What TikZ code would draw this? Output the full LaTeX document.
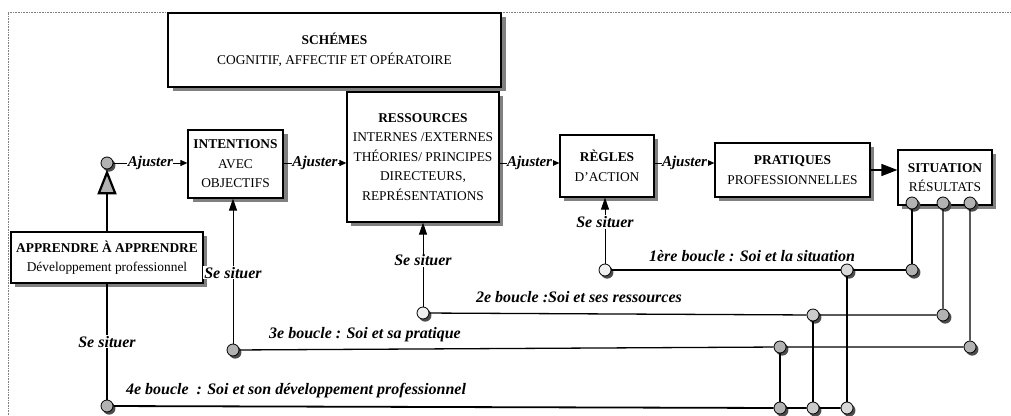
\documentclass[tikz,border=0pt]{standalone}
\usepackage{fontspec}
\setmainfont{Liberation Serif}
\usetikzlibrary{arrows.meta}
\newcommand{\fsz}{\fontsize{13.4}{19.5}\selectfont}
\newcommand{\fit}{\fontsize{16}{19}\selectfont\bfseries\itshape}
\newcommand{\faj}{\fontsize{15}{18}\selectfont\bfseries\itshape}
\begin{document}
\begin{tikzpicture}[x=1pt,y=-1pt,
  box/.style={draw, line width=1.2pt, fill=white, align=center, inner sep=0pt, font=\fsz},
  shbox/.style={draw=none, fill=black!50, inner sep=0pt},
  ball/.style={circle, draw, line width=0.8pt, fill=gray!60, minimum size=12pt, inner sep=0pt},
  shball/.style={circle, draw=none, fill=black!70, minimum size=12.5pt, inner sep=0pt},
  lab/.style={font=\fit, fill=white, inner sep=1pt},
  ajlab/.style={font=\faj, fill=white, inner sep=0.5pt},
  looplab/.style={font=\fit, inner sep=0pt},
  loop/.style={line width=1.3pt},
  aj/.style={line width=1pt, -{Triangle[length=7pt,width=6pt]}},
  up/.style={line width=1pt, -{Triangle[length=12pt,width=8pt]}},
  frame/.style={gray, line width=0.6pt, densely dotted}]
\useasboundingbox (0,0) rectangle (1011,415);
\draw[frame] (8,415) -- (8,12) -- (1011,12);

% box shadows
\node[shbox, minimum width=333pt, minimum height=74pt] (sch-s) at (339,54) {};
\node[shbox, minimum width=95pt, minimum height=68pt] (int-s) at (240,168) {};
\node[shbox, minimum width=152pt, minimum height=130pt] (res-s) at (427,161) {};
\node[shbox, minimum width=94pt, minimum height=62pt] (reg-s) at (611,170) {};
\node[shbox, minimum width=155pt, minimum height=54pt] (pra-s) at (796.5,174) {};
\node[shbox, minimum width=94pt, minimum height=55pt] (sit-s) at (949,181.5) {};
\node[shbox, minimum width=192pt, minimum height=51pt] (app-s) at (111,261.5) {};

% boxes
\node[box, minimum width=333pt, minimum height=74pt] (sch) at (334.5,50)
  {\textbf{SCHÉMES}\\COGNITIF, AFFECTIF ET OPÉRATOIRE};
\node[box, minimum width=95pt, minimum height=68pt] (int) at (235.5,164)
  {\textbf{INTENTIONS}\\AVEC\\OBJECTIFS};
\node[box, minimum width=152pt, minimum height=130pt] (res) at (423,157)
  {\textbf{RESSOURCES}\\INTERNES /EXTERNES\\THÉORIES/ PRINCIPES\\DIRECTEURS,\\REPRÉSENTATIONS};
\node[box, minimum width=94pt, minimum height=62pt] (reg) at (607,166)
  {\textbf{RÈGLES}\\D'ACTION};
\node[box, minimum width=155pt, minimum height=54pt] (pra) at (792.5,170)
  {\textbf{PRATIQUES}\\PROFESSIONNELLES};
\node[box, minimum width=94pt, minimum height=55pt] (sit) at (945,177.5)
  {\textbf{SITUATION}\\RÉSULTATS};
\node[box, minimum width=192pt, minimum height=51pt] (app) at (107,257.5)
  {\textbf{APPRENDRE À APPRENDRE}\\Développement professionnel};

% circles (shadow first, then ball)
\foreach \n/\x/\y/\f in {c0/107/163/60, s1/912/203/60, s2/943/203/60, s3/970/203/60,
    l1/605/270/12, m1/847/270/30, r1/912/270/60, l2/423/313/12, m2/813/315/40, r2/943/315/60,
    l3/233/350/60, m3/780/347/60, r3/970/347/60, l4/107/406/60, b1/780/408/60, b2/813/408/40, b3/847/408/30}{
  \node[shball] (\n-s) at (\x+2.2,\y+2.4) {};
  \node[ball, fill=gray!\f] (\n) at (\x,\y) {};
}

% ajuster row
\draw[aj] (c0) -- node[ajlab]{Ajuster} (int.west |- c0);
\draw[aj] (int.east |- c0) -- node[ajlab]{Ajuster} (res.west |- c0);
\draw[aj] (res.east |- c0) -- node[ajlab]{Ajuster} (reg.west |- c0);
\draw[aj] (reg.east |- c0) -- node[ajlab]{Ajuster} (pra.west |- c0);
\draw[line width=1.4pt, -{Triangle[length=16pt,width=12pt]}] (pra.east) -- (sit.west |- pra.east);

% big arrow up
\draw[line width=2.2pt, -{Triangle[length=25pt,width=19pt,fill=gray!60]}] (app.north) -- (c0.south);

% se situer
\draw[line width=1.8pt] (l4) -- node[lab, pos=0.5]{Se situer} (app.south -| l4);
\draw[up] (l3) -- node[lab, pos=0.49]{Se situer} (int.south -| l3);
\draw[up] (l2) -- node[lab, pos=0.55]{Se situer} (res.south -| l2);
\draw[up] (l1) -- node[lab, pos=0.63]{Se situer} (reg.south -| l1);

% loops
\draw[loop] (l1) -- (m1) -- (r1) -- (s1);
\draw[loop] (l2) -- (m2) -- (r2) -- (s2);
\draw[loop] (l3) -- (m3) -- (r3) -- (s3);
\draw[loop, line width=1.8pt] (l4) -- (b1) -- (b2) -- (b3);
\draw[loop] (m3) -- (b1);
\draw[loop] (m2) -- (b2);
\draw[loop] (m1) -- (b3);

% loop labels
\node[looplab] (t1) at (752,256) {1ère boucle : Soi et la situation};
\node[looplab] (t2) at (579,297) {2e boucle :Soi et ses ressources};
\node[looplab] (t3) at (365,335) {3e boucle : Soi et sa pratique};
\node[looplab] (t4) at (296,391) {4e boucle \ : Soi et son développement professionnel};
\end{tikzpicture}
\end{document}
